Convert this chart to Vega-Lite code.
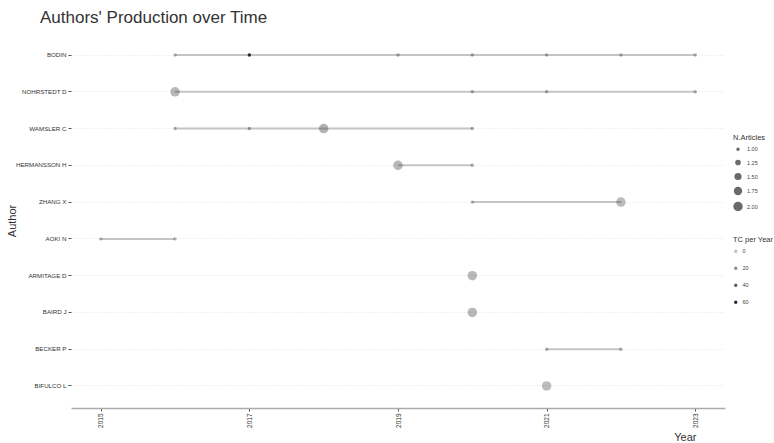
{
  "$schema": "https://vega.github.io/schema/vega-lite/v6.json",
  "width": 654,
  "height": 375,
  "autosize": {"type": "none"},
  "padding": {"left": 71, "top": 33, "right": 49, "bottom": 35},
  "background": "white",
  "title": {
    "text": "Authors' Production over Time",
    "anchor": "start",
    "frame": "group",
    "dx": -31,
    "offset": 6,
    "fontSize": 17,
    "font": "Liberation Sans",
    "fontWeight": "normal",
    "color": "#333333"
  },
  "config": {
    "view": {"stroke": null},
    "font": "Liberation Sans"
  },
  "data": {
    "values": [
      {"Author": "BODIN", "year": 2016, "N": 1, "TC": 3},
      {"Author": "BODIN", "year": 2017, "N": 1, "TC": 60},
      {"Author": "BODIN", "year": 2019, "N": 1, "TC": 6},
      {"Author": "BODIN", "year": 2020, "N": 1, "TC": 6},
      {"Author": "BODIN", "year": 2021, "N": 1, "TC": 5},
      {"Author": "BODIN", "year": 2022, "N": 1, "TC": 5},
      {"Author": "BODIN", "year": 2023, "N": 1, "TC": 5},
      {"Author": "NOHRSTEDT D", "year": 2016, "N": 2, "TC": 3},
      {"Author": "NOHRSTEDT D", "year": 2020, "N": 1, "TC": 6},
      {"Author": "NOHRSTEDT D", "year": 2021, "N": 1, "TC": 6},
      {"Author": "NOHRSTEDT D", "year": 2023, "N": 1, "TC": 6},
      {"Author": "WAMSLER C", "year": 2016, "N": 1, "TC": 3},
      {"Author": "WAMSLER C", "year": 2017, "N": 1, "TC": 8},
      {"Author": "WAMSLER C", "year": 2018, "N": 2, "TC": 5},
      {"Author": "WAMSLER C", "year": 2020, "N": 1, "TC": 8},
      {"Author": "HERMANSSON H", "year": 2019, "N": 2, "TC": 3},
      {"Author": "HERMANSSON H", "year": 2020, "N": 1, "TC": 6},
      {"Author": "ZHANG X", "year": 2020, "N": 1, "TC": 6},
      {"Author": "ZHANG X", "year": 2022, "N": 2, "TC": 2},
      {"Author": "AOKI N", "year": 2015, "N": 1, "TC": 3},
      {"Author": "AOKI N", "year": 2016, "N": 1, "TC": 3},
      {"Author": "ARMITAGE D", "year": 2020, "N": 2, "TC": 3},
      {"Author": "BAIRD J", "year": 2020, "N": 2, "TC": 3},
      {"Author": "BECKER P", "year": 2021, "N": 1, "TC": 5},
      {"Author": "BECKER P", "year": 2022, "N": 1, "TC": 5},
      {"Author": "BIFULCO L", "year": 2021, "N": 2, "TC": 2}
    ]
  },
  "encoding": {
    "y": {
      "field": "Author",
      "type": "nominal",
      "sort": ["BODIN", "NOHRSTEDT D", "WAMSLER C", "HERMANSSON H", "ZHANG X", "AOKI N", "ARMITAGE D", "BAIRD J", "BECKER P", "BIFULCO L"],
      "scale": {"paddingOuter": 0.1},
      "axis": {
        "title": "Author",
        "titleFontSize": 11,
        "titleFontWeight": "normal",
        "titleColor": "#333333",
        "titleX": -54,
        "labelFontSize": 6.2,
        "labelColor": "#333333",
        "labelPadding": 2,
        "tickSize": 3,
        "tickColor": "#555555",
        "domain": false,
        "grid": true,
        "gridColor": "#dddddd",
        "gridDash": [1, 2],
        "gridWidth": 0.8
      }
    }
  },
  "layer": [
    {
      "mark": {"type": "rule", "color": "#c4c4c4", "strokeWidth": 2},
      "encoding": {
        "x": {"aggregate": "min", "field": "year", "type": "quantitative"},
        "x2": {"aggregate": "max", "field": "year"}
      }
    },
    {
      "mark": {"type": "circle", "color": "#2b2b2b"},
      "encoding": {
        "x": {
          "field": "year",
          "type": "quantitative",
          "scale": {"domain": [2014.6, 2023.4], "nice": false, "zero": false},
          "axis": {
            "title": "Year",
            "titleAnchor": "end",
            "titleFontSize": 11,
            "titleFontWeight": "normal",
            "titleColor": "#333333",
            "titlePadding": 4,
            "titleX": 625,
            "values": [2015, 2017, 2019, 2021, 2023],
            "format": "d",
            "labelAngle": 270,
            "labelFontSize": 6.5,
            "labelColor": "#333333",
            "labelPadding": 2,
            "tickSize": 3,
            "tickColor": "#555555",
            "domainColor": "#aaaaaa",
            "domainWidth": 1.5,
            "grid": false
          }
        },
        "size": {
          "field": "N",
          "type": "quantitative",
          "scale": {"domain": [1, 2], "range": [12, 90]},
          "legend": {
            "title": "N.Articles",
            "orient": "none",
            "legendX": 662,
            "legendY": 101,
            "values": [1, 1.25, 1.5, 1.75, 2],
            "format": ".2f",
            "titleFontSize": 7.5,
            "titleFontWeight": "normal",
            "titleColor": "#333333",
            "labelFontSize": 5.5,
            "labelColor": "#444444",
            "symbolFillColor": "#2b2b2b",
            "symbolStrokeWidth": 0,
            "rowPadding": 6,
            "order": 1
          }
        },
        "opacity": {
          "field": "TC",
          "type": "quantitative",
          "scale": {"domain": [0, 60], "range": [0.3, 1]},
          "legend": {
            "title": "TC per Year",
            "orient": "none",
            "legendX": 662,
            "legendY": 203,
            "values": [0, 20, 40, 60],
            "titleFontSize": 7.5,
            "titleFontWeight": "normal",
            "titleColor": "#333333",
            "labelFontSize": 5.5,
            "labelColor": "#444444",
            "symbolSize": 12,
            "symbolType": "circle",
            "symbolFillColor": "#2b2b2b",
            "symbolStrokeWidth": 0,
            "rowPadding": 10,
            "order": 2
          }
        }
      }
    }
  ]
}
